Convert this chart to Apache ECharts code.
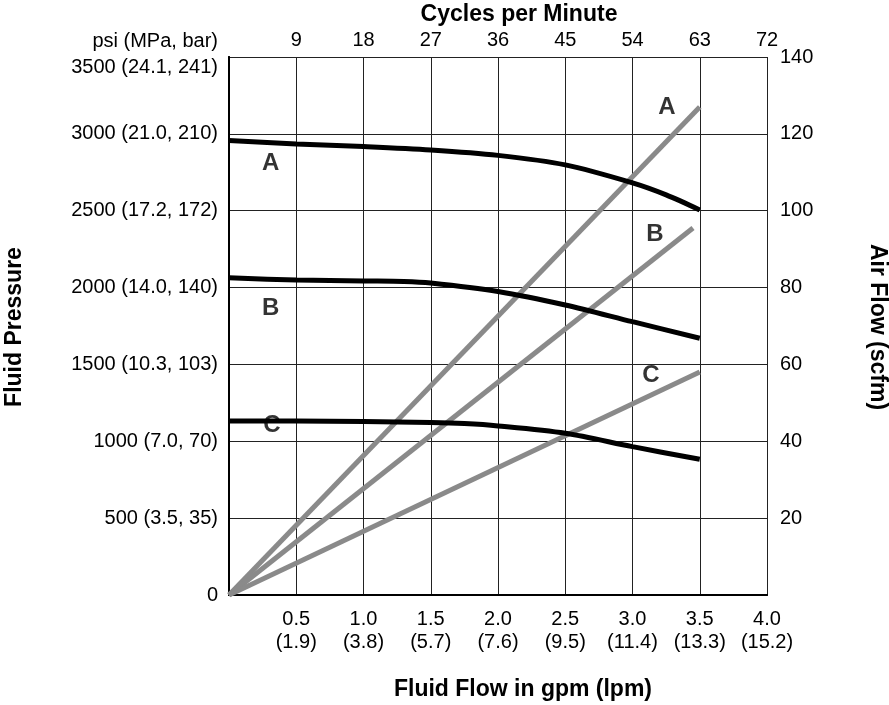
<!DOCTYPE html>
<html>
<head>
<meta charset="utf-8">
<script src="https://cdn.jsdelivr.net/npm/echarts@6/dist/echarts.min.js"></script>
<style>html,body{margin:0;padding:0;background:#fff}#c{width:889px;height:705px}</style>
</head>
<body>
<div id="c"></div>
<script>
// ---- data ----
const gpmTicks = [0, 0.5, 1.0, 1.5, 2.0, 2.5, 3.0, 3.5, 4.0];
const lpmLabels = ['', '1.9', '3.8', '5.7', '7.6', '9.5', '11.4', '13.3', '15.2'];
const cpmTicks = [0, 9, 18, 27, 36, 45, 54, 63, 72];
const psiTicks = [0, 500, 1000, 1500, 2000, 2500, 3000, 3500];
const psiLabels = ['0', '500 (3.5, 35)', '1000 (7.0, 70)', '1500 (10.3, 103)', '2000 (14.0, 140)', '2500 (17.2, 172)', '3000 (21.0, 210)', '3500 (24.1, 241)'];
const scfmTicks = [0, 20, 40, 60, 80, 100, 120, 140];

// fluid pressure curves (gpm -> psi)
const flowA = [0, 0.5, 1.0, 1.5, 2.0, 2.5, 3.0, 3.25, 3.5];
const pressureA = [2956, 2934, 2917, 2895, 2860, 2798, 2681, 2603, 2505];
const flowB = [0, 0.5, 1.0, 1.3, 1.5, 2.0, 2.5, 3.0, 3.5];
const pressureB = [2064, 2049, 2043, 2040, 2030, 1975, 1887, 1778, 1670];
const flowC = [0, 0.5, 1.0, 1.5, 1.75, 2.0, 2.5, 3.0, 3.5];
const pressureC = [1132, 1132, 1128, 1122, 1115, 1100, 1052, 965, 883];

// air flow lines (gpm -> scfm)
const airFlowA = [0, 3.5];
const airA = [0, 127];
const airFlowB = [0, 3.45];
const airB = [0, 95.5];
const airFlowC = [0, 3.5];
const airC = [0, 58];

// curve letters (in data coordinates)
const pressureLetters = [[0.31, 2810, 'A'], [0.31, 1867, 'B'], [0.32, 1106, 'C']];
const airLetters = [[3.255, 127, 'A'], [3.166, 93.9, 'B'], [3.136, 57.2, 'C']];

// titles
const titleBottom = 'Fluid Flow in gpm (lpm)';
const titleTop = 'Cycles per Minute';
const titleLeft = 'Fluid Pressure';
const titleRight = 'Air Flow (scfm)';
const unitLeft = 'psi (MPa, bar)';

// ---- chart ----
const FONT = '"Liberation Sans", Arial, Helvetica, sans-serif';
const TICK = 20;
const TITLE = 23;
const zip = (xs, ys) => xs.map((x, i) => [x, ys[i]]);

const chart = echarts.init(document.getElementById('c'), null, {renderer: 'canvas'});
const axisLine = {show: true, lineStyle: {color: '#000', width: 2}};
const split = {show: true, lineStyle: {color: '#222', width: 1}};

const pressureLine = (xs, ys) => ({
  type: 'line', xAxisIndex: 0, yAxisIndex: 0, data: zip(xs, ys),
  showSymbol: false, smooth: 0.3, lineStyle: {color: '#000', width: 5}, z: 5
});
const airLine = (xs, ys) => ({
  type: 'line', xAxisIndex: 0, yAxisIndex: 1, data: zip(xs, ys),
  showSymbol: false, lineStyle: {color: '#8a8a8a', width: 5}, z: 4
});
const letters = (data, yIdx) => ({
  type: 'scatter', xAxisIndex: 0, yAxisIndex: yIdx, data: data, symbolSize: 0,
  label: {show: true, position: 'inside', formatter: p => p.data[2],
    fontFamily: FONT, fontWeight: 'bold', fontSize: 24, color: '#000'}, z: 6
});
const titleText = (text, x, y, rot, bold) => ({
  type: 'text', x: x, y: y, rotation: rot,
  style: {text: text, fontFamily: FONT, fontSize: bold ? TITLE : TICK, fontWeight: bold ? 'bold' : 'normal',
    fill: '#000', align: bold ? 'center' : 'right', verticalAlign: 'middle'}
});

chart.setOption({
  animation: false,
  backgroundColor: '#fff',
  grid: {left: 229, right: 122, top: 57, bottom: 110, containLabel: false},
  xAxis: [
    {type: 'value', position: 'bottom', min: 0, max: 4, interval: 0.5,
     axisLine: axisLine, axisTick: {show: false}, splitLine: split,
     axisLabel: {fontFamily: FONT, fontSize: TICK, color: '#000', margin: 13, lineHeight: 23,
       formatter: v => { const i = gpmTicks.findIndex(t => Math.abs(t - v) < 1e-6); return i <= 0 ? '' : v.toFixed(1) + '\n(' + lpmLabels[i] + ')'; }}},
    {type: 'value', position: 'top', min: 0, max: 72, interval: 9,
     axisLine: axisLine, axisTick: {show: false}, splitLine: {show: false},
     axisLabel: {fontFamily: FONT, fontSize: TICK, color: '#000', margin: 7,
       formatter: v => v === 0 ? '' : String(cpmTicks[cpmTicks.indexOf(v)])}}
  ],
  yAxis: [
    {type: 'value', position: 'left', min: 0, max: 3500, interval: 500,
     axisLine: axisLine, axisTick: {show: false}, splitLine: split,
     axisLabel: {fontFamily: FONT, fontSize: TICK, color: '#000', margin: 11,
       formatter: v => { const s = psiLabels[psiTicks.indexOf(v)]; return v === 3500 ? '{top|' + s + '}' : s; },
       rich: {top: {fontFamily: FONT, fontSize: TICK, color: '#000', padding: [20, 0, 0, 0]}}}},
    {type: 'value', position: 'right', min: 0, max: 140, interval: 20,
     axisLine: axisLine, axisTick: {show: false}, splitLine: {show: false},
     axisLabel: {fontFamily: FONT, fontSize: TICK, color: '#000', margin: 13,
       formatter: v => v === 0 ? '' : String(scfmTicks[scfmTicks.indexOf(v)])}}
  ],
  graphic: [
    titleText(titleTop, 519, 15, 0, true),
    titleText(titleBottom, 523, 690, 0, true),
    titleText(titleLeft, 15, 327, Math.PI / 2, true),
    titleText(titleRight, 877, 327, -Math.PI / 2, true),
    titleText(unitLeft, 218, 41, 0, false)
  ],
  series: [
    airLine(airFlowA, airA), airLine(airFlowB, airB), airLine(airFlowC, airC),
    pressureLine(flowA, pressureA), pressureLine(flowB, pressureB), pressureLine(flowC, pressureC),
    letters(pressureLetters, 0), letters(airLetters, 1)
  ]
});
</script>
</body>
</html>
